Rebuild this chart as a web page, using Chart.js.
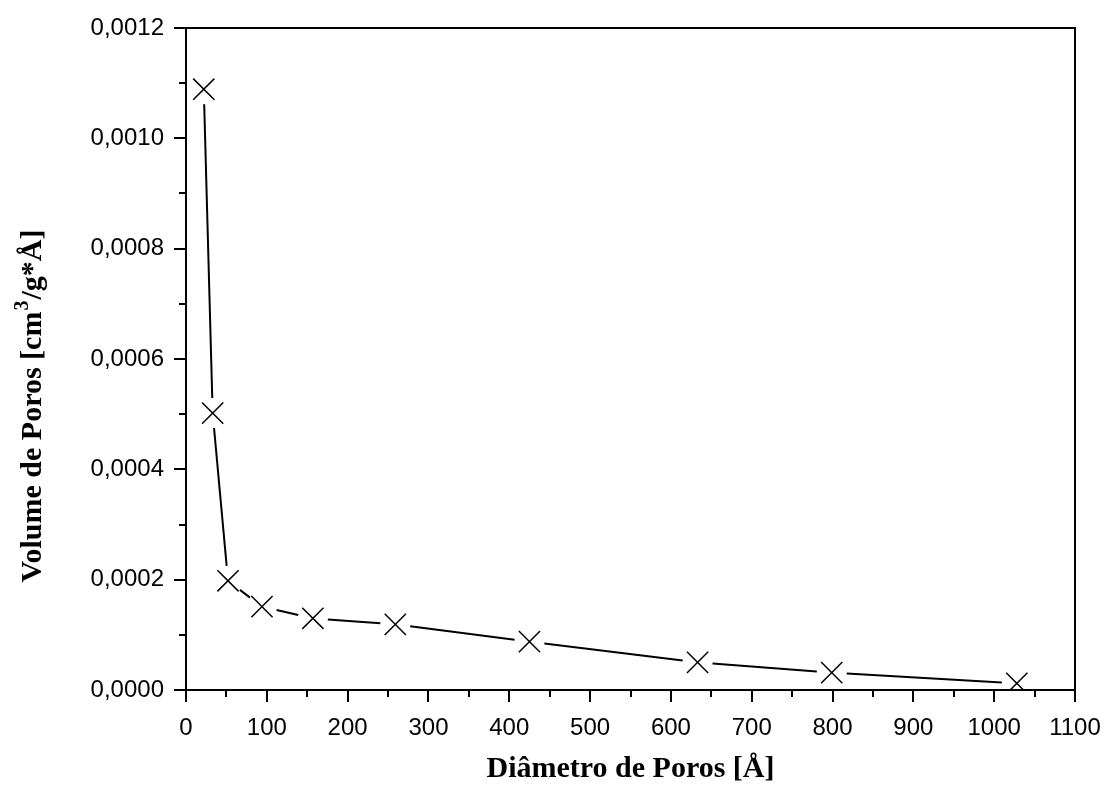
<!DOCTYPE html>
<html>
<head>
<meta charset="utf-8">
<script src="https://cdn.jsdelivr.net/npm/chart.js@4"></script>
<style>
  body { margin: 0; background: #fff; }
  #wrap { width: 1107px; height: 787px; position: relative; }
</style>
</head>
<body>
<div id="wrap"><canvas id="chart"></canvas></div>
<script>
// valores
const diametro = [22, 33, 52, 94, 157, 259, 425, 633, 799, 1028];
const volume = [0.001089, 0.000502, 0.000198, 0.000151, 0.000130, 0.000119, 0.0000876, 0.0000502, 0.0000314, 0.0000121];
const xTitulo = 'Diâmetro de Poros [Å]';
const yTitulo = ['Volume de Poros [cm', '3', '/g*Å]'];

const pontos = diametro.map((d, i) => ({ x: d, y: volume[i] }));

// linha com espaços em volta dos marcadores + moldura, ticks e título do eixo y
const moldura = {
    id: 'moldura',
    beforeDatasetsDraw(chart) {
        const ctx = chart.ctx;
        const pts = chart.getDatasetMeta(0).data;
        const gap = 15;
        ctx.save();
        ctx.strokeStyle = '#000';
        ctx.lineWidth = 2;
        for (let i = 0; i < pts.length - 1; i++) {
            const a = pts[i], b = pts[i + 1];
            const dx = b.x - a.x, dy = b.y - a.y;
            const len = Math.hypot(dx, dy);
            if (len <= gap * 2) continue;
            const ux = dx / len, uy = dy / len;
            ctx.beginPath();
            ctx.moveTo(a.x + ux * gap, a.y + uy * gap);
            ctx.lineTo(b.x - ux * gap, b.y - uy * gap);
            ctx.stroke();
        }
        ctx.restore();
    },
    afterDraw(chart) {
        const ctx = chart.ctx;
        const { left, right, top, bottom } = chart.chartArea;
        const xs = chart.scales.x, ys = chart.scales.y;
        ctx.save();
        ctx.strokeStyle = '#000';
        ctx.lineWidth = 2;
        ctx.strokeRect(left, top, right - left, bottom - top);
        ctx.beginPath();
        for (let v = 0; v <= 1100; v += 50) {
            const px = Math.round(xs.getPixelForValue(v));
            const l = v % 100 === 0 ? 12 : 7;
            ctx.moveTo(px, bottom);
            ctx.lineTo(px, bottom + l);
        }
        for (let k = 0; k <= 12; k++) {
            const py = Math.round(ys.getPixelForValue(k * 0.0001));
            const l = k % 2 === 0 ? 12 : 7;
            ctx.moveTo(left, py);
            ctx.lineTo(left - l, py);
        }
        ctx.stroke();

        // título y com expoente
        const fNormal = 'bold 30px "Liberation Serif"';
        const fSup = 'bold 20px "Liberation Serif"';
        ctx.font = fNormal;
        const w0 = ctx.measureText(yTitulo[0]).width;
        const w2 = ctx.measureText(yTitulo[2]).width;
        ctx.font = fSup;
        const w1 = ctx.measureText(yTitulo[1]).width;
        const total = w0 + w1 + w2;
        ctx.translate(41, 407);
        ctx.rotate(-Math.PI / 2);
        ctx.fillStyle = '#000';
        ctx.textBaseline = 'alphabetic';
        ctx.textAlign = 'left';
        let x0 = -total / 2;
        ctx.font = fNormal;
        ctx.fillText(yTitulo[0], x0, 0);
        ctx.font = fSup;
        ctx.fillText(yTitulo[1], x0 + w0 + 1, -13);
        ctx.font = fNormal;
        ctx.fillText(yTitulo[2], x0 + w0 + w1 + 2, 0);
        ctx.restore();
    }
};

const ctx = document.getElementById('chart').getContext('2d');
new Chart(ctx, {
    type: 'scatter',
    data: {
        datasets: [{
            data: pontos,
            showLine: false,
            pointStyle: 'crossRot',
            pointRadius: 15,
            pointHoverRadius: 15,
            pointBorderWidth: 1.5,
            borderColor: '#000',
            backgroundColor: '#000'
        }]
    },
    options: {
        responsive: true,
        maintainAspectRatio: false,
        animation: false,
        layout: { padding: { top: 28, right: 32, left: 0, bottom: 0 } },
        plugins: { legend: { display: false }, tooltip: { enabled: false } },
        scales: {
            x: {
                type: 'linear',
                min: 0,
                max: 1100,
                afterFit(scale) {
                    scale.height = 97;
                    scale.paddingLeft = 0;
                    scale.paddingRight = 0;
                },
                grid: { display: false, drawTicks: false },
                border: { display: false },
                ticks: {
                    stepSize: 100,
                    color: '#000',
                    padding: 24,
                    maxRotation: 0,
                    autoSkip: false,
                    font: { family: 'Liberation Sans', size: 24 },
                    callback: v => String(v)
                },
                title: {
                    display: true,
                    text: xTitulo,
                    color: '#000',
                    padding: { top: 0, bottom: 0 },
                    font: { family: 'Liberation Serif', size: 30, weight: 'bold' }
                }
            },
            y: {
                type: 'linear',
                min: 0,
                max: 0.0012,
                afterFit(scale) {
                    scale.width = 186;
                    scale.paddingTop = 0;
                    scale.paddingBottom = 0;
                },
                grid: { display: false, drawTicks: false },
                border: { display: false },
                ticks: {
                    stepSize: 0.0002,
                    color: '#000',
                    padding: 22,
                    autoSkip: false,
                    font: { family: 'Liberation Sans', size: 24 },
                    callback: v => v.toFixed(4).replace('.', ',')
                }
            }
        }
    },
    plugins: [moldura]
});
</script>
</body>
</html>
